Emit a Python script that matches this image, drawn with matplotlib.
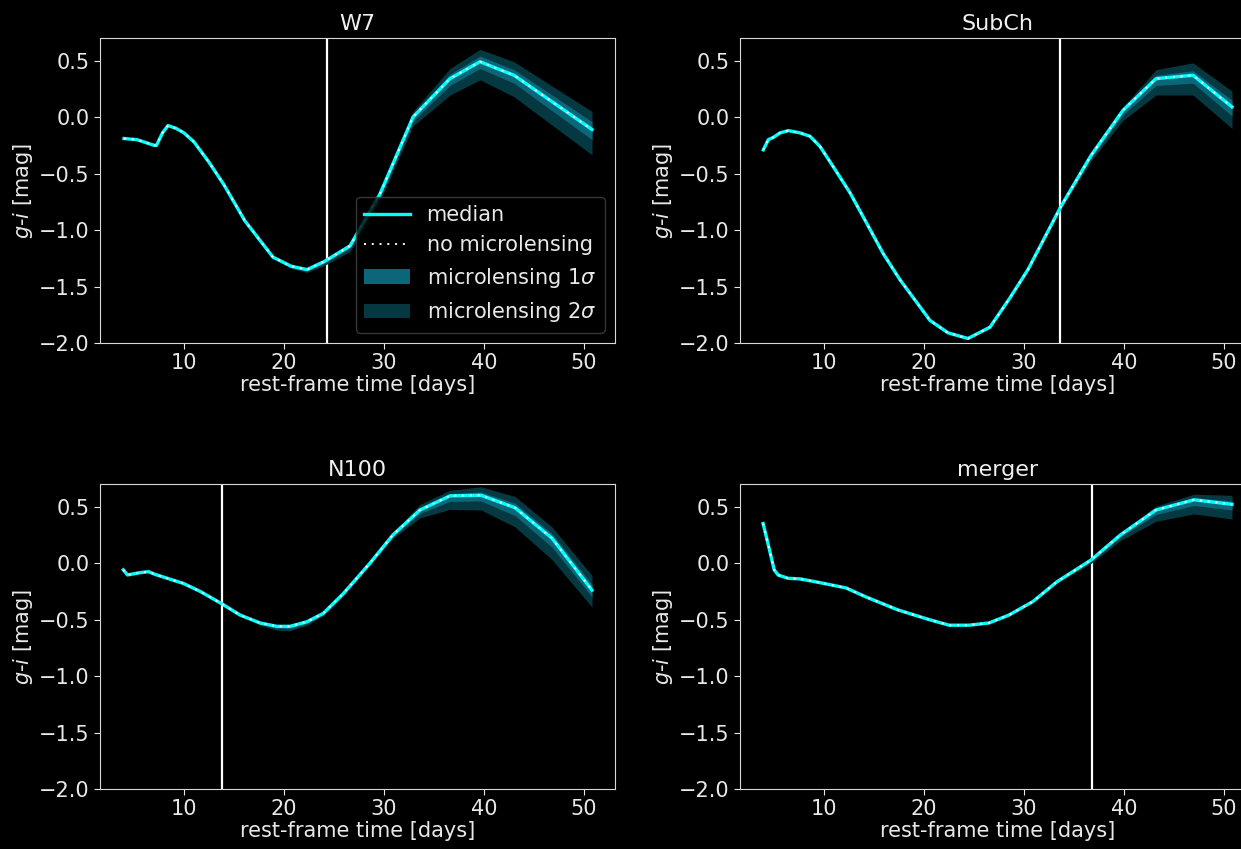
import numpy as np
import matplotlib.pyplot as plt

plt.style.use('dark_background')

# ---- W7 ----
w7_t = [4.0, 5.3, 7.0, 7.25, 7.85, 8.4, 9.2, 10.0, 11.0, 12.5, 14.0, 16.1, 18.9, 20.7,
        22.3, 24.0, 26.6, 29.6, 32.9, 36.6, 39.6, 43.0, 50.8]
w7_med = [-0.19, -0.20, -0.25, -0.25, -0.14, -0.075, -0.10, -0.14, -0.22, -0.40,
          -0.60, -0.92, -1.24, -1.32, -1.35, -1.28, -1.14, -0.68, 0.0, 0.34, 0.49, 0.37, -0.11]
w7_hi1 = [0]*13 + [0.005, 0.005, 0.01, 0.01, 0.015, 0.025, 0.04, 0.05, 0.05, 0.07]
w7_lo1 = [0]*13 + [0.01, 0.01, 0.015, 0.02, 0.025, 0.035, 0.06, 0.06, 0.07, 0.09]
w7_hi2 = [0]*13 + [0.01, 0.015, 0.02, 0.02, 0.03, 0.05, 0.09, 0.11, 0.12, 0.16]
w7_lo2 = [0]*13 + [0.02, 0.025, 0.035, 0.05, 0.06, 0.08, 0.145, 0.16, 0.19, 0.225]
w7_nolens = w7_med
w7_tmax = 24.3

# ---- SubCh ----
sub_t = [3.93, 4.43, 4.93, 5.6, 6.43, 7.6, 8.6, 9.6, 10.93, 12.6, 14.27, 15.93, 17.6,
         19.6, 20.6, 22.4, 24.4, 26.6, 28.6, 30.4, 33.7, 36.7, 39.9, 43.2, 46.9, 50.8]
sub_med = [-0.29, -0.20, -0.18, -0.14, -0.12, -0.14, -0.17, -0.26, -0.44, -0.67, -0.94,
           -1.21, -1.44, -1.68, -1.80, -1.91, -1.96, -1.86, -1.60, -1.35, -0.79, -0.34,
           0.06, 0.34, 0.37, 0.09]
sub_hi1 = [0]*21 + [0.01, 0.01, 0.03, 0.04, 0.06]
sub_lo1 = [0]*20 + [0.01, 0.02, 0.04, 0.06, 0.07, 0.08]
sub_hi2 = [0]*21 + [0.02, 0.03, 0.08, 0.11, 0.14]
sub_lo2 = [0]*20 + [0.02, 0.05, 0.09, 0.145, 0.175, 0.19]
sub_nolens = sub_med
sub_tmax = 33.6

# ---- N100 ----
n100_t = [3.93, 4.35, 5.6, 6.45, 7.1, 9.93, 11.6, 13.77, 15.6, 17.6, 19.27, 20.6, 22.27,
          23.93, 25.93, 27.27, 28.6, 30.9, 33.6, 36.6, 39.7, 43.1, 46.8, 50.8]
n100_med = [-0.06, -0.105, -0.085, -0.076, -0.10, -0.18, -0.25, -0.36, -0.46, -0.53,
            -0.56, -0.56, -0.52, -0.445, -0.27, -0.135, 0.0, 0.25, 0.47, 0.595, 0.60,
            0.49, 0.22, -0.24]
n100_hi1 = [0]*10 + [0.005, 0.005, 0.005, 0, 0, 0, 0, 0.01, 0.02, 0.02, 0.03, 0.04, 0.04, 0.05]
n100_lo1 = [0]*9 + [0.01, 0.015, 0.02, 0.015, 0.01, 0.01, 0.01, 0.01, 0.015, 0.03, 0.05,
                    0.05, 0.07, 0.08, 0.06]
n100_hi2 = [0]*10 + [0.01, 0.01, 0.01, 0, 0, 0, 0, 0.02, 0.05, 0.05, 0.075, 0.10, 0.10, 0.13]
n100_lo2 = [0]*9 + [0.02, 0.035, 0.04, 0.03, 0.02, 0.02, 0.02, 0.02, 0.03, 0.07, 0.12,
                    0.13, 0.17, 0.19, 0.15]
n100_nolens = n100_med
n100_tmax = 13.8

# ---- merger ----
mrg_t = [3.91, 4.23, 4.63, 5.02, 5.42, 6.42, 7.6, 9.4, 12.2, 14.2, 17.4, 20.5, 22.5,
         24.5, 26.5, 28.5, 30.9, 33.3, 36.7, 39.65, 43.2, 47.0, 50.8]
mrg_med = [0.35, 0.234, 0.086, -0.06, -0.106, -0.135, -0.14, -0.17, -0.22, -0.30, -0.415,
           -0.50, -0.55, -0.55, -0.53, -0.46, -0.34, -0.165, 0.027, 0.25, 0.47, 0.56, 0.52]
mrg_hi1 = [0]*18 + [0.005, 0.01, 0.015, 0.02, 0.03]
mrg_lo1 = [0]*17 + [0.005, 0.01, 0.02, 0.04, 0.05, 0.05]
mrg_hi2 = [0]*18 + [0.01, 0.02, 0.035, 0.05, 0.08]
mrg_lo2 = [0]*17 + [0.01, 0.03, 0.05, 0.10, 0.125, 0.13]
mrg_nolens = mrg_med
mrg_tmax = 36.8

models = [
    ('W7', w7_t, w7_med, w7_nolens, w7_lo1, w7_hi1, w7_lo2, w7_hi2, w7_tmax),
    ('SubCh', sub_t, sub_med, sub_nolens, sub_lo1, sub_hi1, sub_lo2, sub_hi2, sub_tmax),
    ('N100', n100_t, n100_med, n100_nolens, n100_lo1, n100_hi1, n100_lo2, n100_hi2, n100_tmax),
    ('merger', mrg_t, mrg_med, mrg_nolens, mrg_lo1, mrg_hi1, mrg_lo2, mrg_hi2, mrg_tmax),
]

fig = plt.figure(figsize=(12.41, 8.49), dpi=100, facecolor='black')
W, H = 1241, 849
# axes boxes in pixels: left, top ; the right column runs past the image edge
boxes = [(100, 38), (740, 38), (100, 484), (740, 484)]
aw, ah = 515, 305

c1 = '#0a6678'
c2 = '#053840'
fs = 15

for (name, t, med, nol, lo1, hi1, lo2, hi2, tmax), (bx, by) in zip(models, boxes):
    ax = fig.add_axes([bx / W, 1 - (by + ah) / H, aw / W, ah / H])
    ax.set_facecolor('black')
    t = np.array(t); med = np.array(med)
    ax.axvline(tmax, color='white', lw=1.6, zorder=1)
    ax.fill_between(t, med - np.array(lo2), med + np.array(hi2), color=c2, lw=0,
                    label=r'microlensing 2$\sigma$', zorder=2)
    ax.fill_between(t, med - np.array(lo1), med + np.array(hi1), color=c1, lw=0,
                    label=r'microlensing 1$\sigma$', zorder=3)
    ax.plot(t, med, color='cyan', lw=2.4, label='median', zorder=4)
    ax.plot(t, nol, color='white', lw=1.4, ls=(0, (1, 3)), label='no microlensing', zorder=5)
    ax.set_xlim(1.6, 53.1)
    ax.set_ylim(-2.0, 0.7)
    ax.set_yticks([-2.0, -1.5, -1.0, -0.5, 0.0, 0.5])
    ax.set_xticks([10, 20, 30, 40, 50])
    ax.tick_params(labelsize=fs, colors='#e8e8e8', length=4)
    for s in ax.spines.values():
        s.set_color('#d8d8d8')
    ax.set_xlabel('rest-frame time [days]', fontsize=fs, color='#e8e8e8', labelpad=1)
    ax.set_ylabel(r'$g$-$i$ [mag]', fontsize=fs, color='#e8e8e8', labelpad=3)
    ax.set_title(name, fontsize=16, color='#f0f0f0', pad=6)
    if name == 'W7':
        h, l = ax.get_legend_handles_labels()
        order = [2, 3, 1, 0]
        leg = ax.legend([h[i] for i in order], [l[i] for i in order], loc='lower right',
                        fontsize=fs, facecolor='black', edgecolor='#444444',
                        framealpha=0.8, handlelength=2.2, borderaxespad=0.5,
                        labelspacing=0.5)
        for txt in leg.get_texts():
            txt.set_color('#e8e8e8')

fig.savefig('out.png', dpi=100, facecolor='black')
